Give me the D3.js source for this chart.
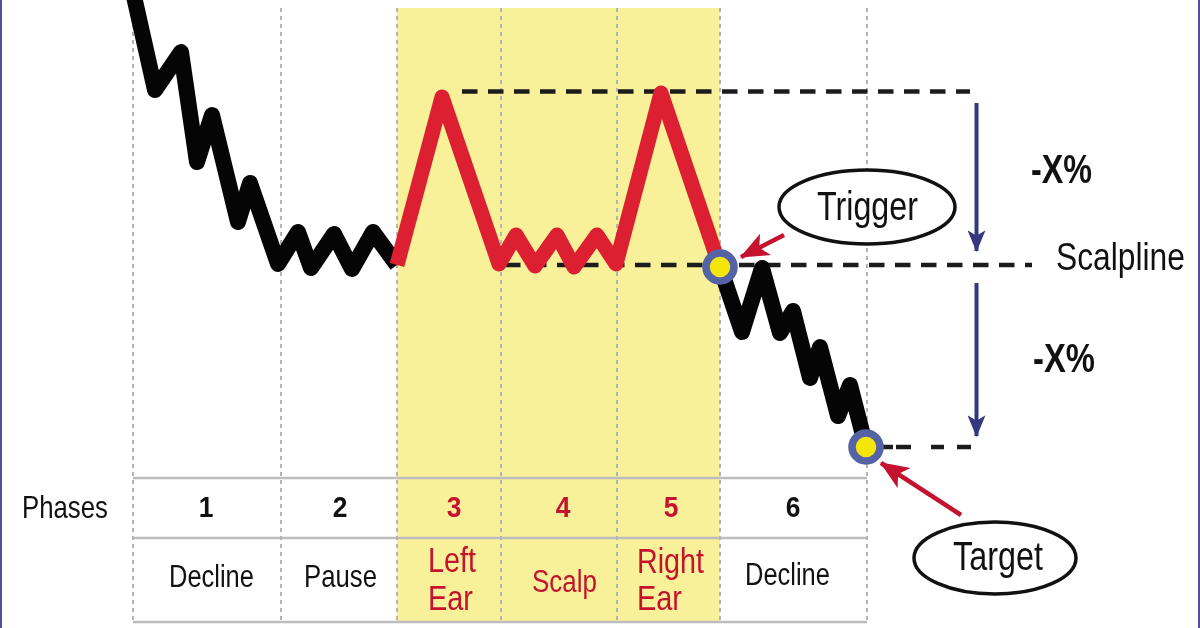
<!DOCTYPE html>
<html>
<head>
<meta charset="utf-8">
<script src="https://cdnjs.cloudflare.com/ajax/libs/d3/7.8.5/d3.min.js"></script>
<style>
html, body { margin: 0; padding: 0; background: #fff; overflow: hidden; }
svg { display: block; filter: blur(0.6px); }
text { font-family: "Liberation Sans", Arial, sans-serif; }
</style>
</head>
<body>
<script>
const width = 1200;
const height = 628;

// price path
const declineTime = [133, 155, 181, 197, 212, 238, 250, 278, 298, 311, 334, 352, 373, 397];
const declinePrice = [636, 538, 576, 466, 513, 406, 445, 364, 396, 360, 394, 359, 396, 363];
const patternTime = [397, 442, 499, 516, 535, 557, 574, 597, 616, 661, 720];
const patternPrice = [363, 531, 364, 393, 362, 393, 361, 393, 364, 535, 361];
const breakTime = [720, 742, 762, 780, 793, 810, 820, 838, 850, 866];
const breakPrice = [361, 296, 360, 295, 317, 250, 281, 212, 243, 181];

// levels and signals
const earLevel = 536.5;
const scalpLevel = 363;
const targetLevel = 181;
const signalTime = [720, 866];
const signalPrice = [361, 181];

// table
const phaseEdges = [133, 281, 397, 501, 617, 720, 867];
const phaseNumbers = ["1", "2", "3", "4", "5", "6"];
const phaseNames = ["Decline", "Pause", "Left Ear", "Scalp", "Right Ear", "Decline"];

const red = "#c4122f";
const navy = "#34397f";

const x = d3.scaleLinear().domain([0, width]).range([0, width]);
const y = d3.scaleLinear().domain([0, height]).range([height, 0]);

const svg = d3.select("body").append("svg")
    .attr("width", width)
    .attr("height", height);

svg.append("defs").selectAll("marker")
    .data([["navyHead", navy, 22, 18], ["redHead", red, 30, 24]])
    .join("marker")
    .attr("id", d => d[0])
    .attr("markerUnits", "userSpaceOnUse")
    .attr("viewBox", "0 0 24 20")
    .attr("refX", 23)
    .attr("refY", 10)
    .attr("markerWidth", d => d[2])
    .attr("markerHeight", d => d[3])
    .attr("orient", "auto")
    .append("path")
    .attr("d", "M0,0 L24,10 L0,20 L6,10 Z")
    .attr("fill", d => d[1]);

// page frame
svg.selectAll(".frame")
    .data([0, 1198])
    .join("rect")
    .attr("class", "frame")
    .attr("x", d => d)
    .attr("y", 0)
    .attr("width", 2)
    .attr("height", height)
    .attr("fill", "#4a4fa0");

// pattern band
svg.append("rect")
    .attr("x", x(397))
    .attr("y", 8)
    .attr("width", x(720) - x(397))
    .attr("height", 614)
    .attr("fill", "#f8f199");

// table rules
svg.selectAll(".rule")
    .data([478, 538, 622])
    .join("line")
    .attr("class", "rule")
    .attr("x1", x(133))
    .attr("x2", x(867))
    .attr("y1", d => d)
    .attr("y2", d => d)
    .attr("stroke", "#bdbdbd")
    .attr("stroke-width", 2.5);

svg.selectAll(".phase-edge")
    .data(phaseEdges)
    .join("line")
    .attr("class", "phase-edge")
    .attr("x1", d => x(d))
    .attr("x2", d => x(d))
    .attr("y1", 8)
    .attr("y2", 622)
    .attr("stroke", "#b4b4b4")
    .attr("stroke-width", 2)
    .attr("stroke-dasharray", "4 4");

// dashed levels
const levels = [
    { level: earLevel, from: 462, to: 970, dash: "15.5 10.5" },
    { level: scalpLevel, from: 505, to: 1032, dash: "15.5 10.5" },
    { level: targetLevel, from: 879, to: 973, dash: "14 3 15 20 13 13 14 20" }
];
svg.selectAll(".level")
    .data(levels)
    .join("line")
    .attr("class", "level")
    .attr("x1", d => x(d.from))
    .attr("x2", d => x(d.to))
    .attr("y1", d => y(d.level))
    .attr("y2", d => y(d.level))
    .attr("stroke", "#1c1c1c")
    .attr("stroke-width", 4.5)
    .attr("stroke-dasharray", d => d.dash);

// price lines
const line = d3.line()
    .x(d => x(d[0]))
    .y(d => y(d[1]));

svg.append("path")
    .datum(d3.zip(declineTime, declinePrice))
    .attr("d", line)
    .attr("fill", "none")
    .attr("stroke", "#050505")
    .attr("stroke-width", 16)
    .attr("stroke-linejoin", "round");

svg.append("path")
    .datum(d3.zip(breakTime, breakPrice))
    .attr("d", line)
    .attr("fill", "none")
    .attr("stroke", "#050505")
    .attr("stroke-width", 16)
    .attr("stroke-linejoin", "round");

svg.append("path")
    .datum(d3.zip(patternTime, patternPrice))
    .attr("d", line)
    .attr("fill", "none")
    .attr("stroke", "#dc2032")
    .attr("stroke-width", 15)
    .attr("stroke-linejoin", "round");

svg.selectAll(".signal")
    .data(d3.zip(signalTime, signalPrice))
    .join("circle")
    .attr("class", "signal")
    .attr("cx", d => x(d[0]))
    .attr("cy", d => y(d[1]))
    .attr("r", 14)
    .attr("fill", "#f4e60b")
    .attr("stroke", "#5563a6")
    .attr("stroke-width", 7.5);

// arrows
const arrows = [
    { x1: 976.5, y1: 103, x2: 976.5, y2: 251, color: navy, width: 4, head: "navyHead" },
    { x1: 976.5, y1: 283, x2: 976.5, y2: 436, color: navy, width: 4, head: "navyHead" },
    { x1: 784, y1: 235, x2: 741, y2: 257, color: red, width: 4.5, head: "redHead" },
    { x1: 961, y1: 515, x2: 881, y2: 463, color: red, width: 4.5, head: "redHead" }
];
svg.selectAll(".arrow")
    .data(arrows)
    .join("line")
    .attr("class", "arrow")
    .attr("x1", d => d.x1)
    .attr("y1", d => d.y1)
    .attr("x2", d => d.x2)
    .attr("y2", d => d.y2)
    .attr("stroke", d => d.color)
    .attr("stroke-width", d => d.width)
    .attr("marker-end", d => `url(#${d.head})`);

// callouts
svg.selectAll(".callout")
    .data([{ cx: 867, cy: 207, rx: 88, ry: 37 }, { cx: 995, cy: 558, rx: 81, ry: 36 }])
    .join("ellipse")
    .attr("class", "callout")
    .attr("cx", d => d.cx)
    .attr("cy", d => d.cy)
    .attr("rx", d => d.rx)
    .attr("ry", d => d.ry)
    .attr("fill", "#fff")
    .attr("stroke", "#111")
    .attr("stroke-width", 3.5);

// squeezed to the width measured in the picture
function label(str, left, base, len, size, color, weight) {
    const t = svg.append("text")
        .attr("font-size", size)
        .attr("font-weight", weight || "normal")
        .attr("fill", color || "#111")
        .text(str);
    const natural = t.node().getComputedTextLength();
    t.attr("transform", `translate(${left},${base}) scale(${len / natural},1)`);
}

label("Trigger", 817, 220, 101, 40);
label("Target", 953, 570, 90, 40);
label("Scalpline", 1056, 270, 129, 38);
label("-X%", 1031, 183, 61, 40, "#111", "bold");
label("-X%", 1033, 372, 62, 40, "#111", "bold");
label("Phases", 22, 518, 86, 32);

// table numbers
const numberX = [206, 340, 454, 563, 671, 793];
phaseNumbers.forEach((n, i) => {
    svg.append("text")
        .attr("text-anchor", "middle")
        .attr("font-size", 30)
        .attr("font-weight", "bold")
        .attr("transform", `translate(${numberX[i]},517) scale(0.88,1)`)
        .attr("fill", i >= 2 && i <= 4 ? red : "#111")
        .text(n);
});

// table names
label(phaseNames[0], 169, 587, 85, 31);
label(phaseNames[1], 304, 587, 73, 31);
label(phaseNames[2].split(" ")[0], 428, 572, 48, 35, red);
label(phaseNames[2].split(" ")[1], 428, 610, 45, 35, red);
label(phaseNames[3], 532, 592, 65, 31, red);
label(phaseNames[4].split(" ")[0], 637, 573, 67, 35, red);
label(phaseNames[4].split(" ")[1], 637, 610, 45, 35, red);
label(phaseNames[5], 745, 585, 85, 31);
</script>
</body>
</html>
